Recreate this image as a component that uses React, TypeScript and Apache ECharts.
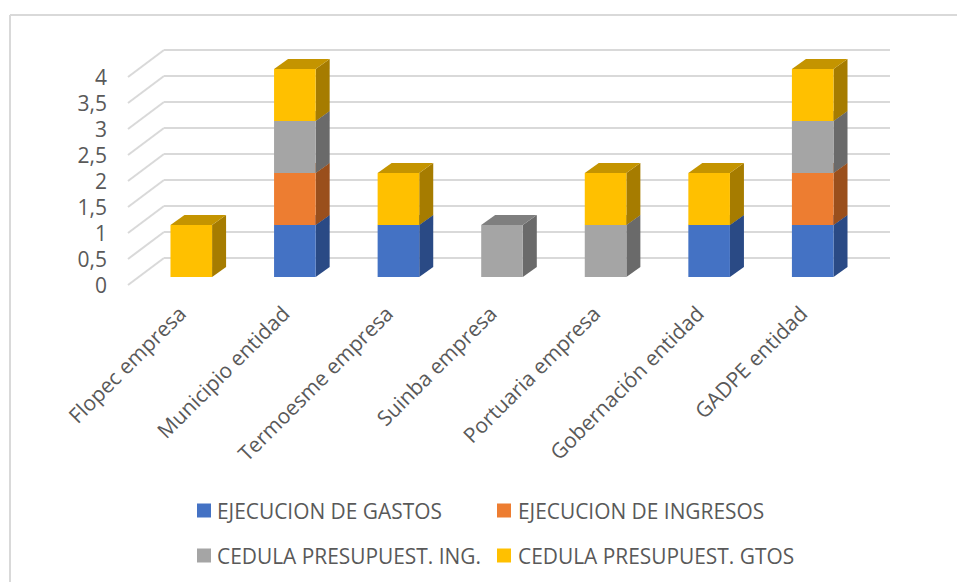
import React, { useEffect, useRef } from "react";
import * as echarts from "echarts";

const categories = ["Flopec empresa", "Municipio entidad", "Termoesme empresa", "Suinba empresa", "Portuaria empresa", "Gobernación entidad", "GADPE entidad"];
const ejecucionGastos = [0, 1, 1, 0, 0, 1, 1];
const ejecucionIngresos = [0, 1, 0, 0, 0, 0, 1];
const cedulaIngresos = [0, 1, 0, 1, 1, 0, 1];
const cedulaGastos = [1, 1, 1, 0, 1, 1, 1];
const yTicks = [0, 0.5, 1, 1.5, 2, 2.5, 3, 3.5, 4];

const names = ["EJECUCION DE GASTOS", "EJECUCION DE INGRESOS", "CEDULA PRESUPUEST. ING.", "CEDULA PRESUPUEST. GTOS"];
const values = [ejecucionGastos, ejecucionIngresos, cedulaIngresos, cedulaGastos];
const front = ["#4472C4", "#ED7D31", "#A5A5A5", "#FFC000"];
const side = ["#2A4A85", "#9A4F1C", "#6A6A6A", "#A67C00"];
const top = ["#335899", "#B65F24", "#7F7F7F", "#C49400"];

const FONT = "'Open Sans', sans-serif";
const TEXT = "#595959";
const GRIDLINE = "#D9D9D9";
const BAR_W = 41.6;
const DX = 14;
const DY = 10;

export default function App() {
  const ref = useRef<HTMLDivElement>(null);
  useEffect(() => {
    const chart = echarts.init(ref.current!, null, { renderer: "svg" });
    const barSeries = names.map((name, s) => ({
      name,
      type: "custom",
      xAxisIndex: 0,
      yAxisIndex: 0,
      itemStyle: { color: front[s] },
      data: categories.map((_, i) => {
        let base = 0;
        for (let k = 0; k < s; k++) base += values[k][i];
        return [i, base, base + values[s][i]];
      }),
      encode: { x: 0, y: [1, 2] },
      renderItem: (_p: any, api: any) => {
        const i = api.value(0);
        const b = api.value(1);
        const t = api.value(2);
        if (t === b) return null;
        const [cx, y0] = api.coord([i, b]);
        const [, y1] = api.coord([i, t]);
        const l = cx - BAR_W / 2;
        const r = l + BAR_W;
        return {
          type: "group",
          children: [
            { type: "polygon", shape: { points: [[r, y0], [r + DX, y0 - DY], [r + DX, y1 - DY], [r, y1]] }, style: { fill: side[s] } },
            { type: "polygon", shape: { points: [[l, y1], [l + DX, y1 - DY], [r + DX, y1 - DY], [r, y1]] }, style: { fill: top[s] } },
            { type: "rect", shape: { x: l, y: y1, width: BAR_W, height: y0 - y1 }, style: { fill: front[s] } },
          ],
        };
      },
    }));
    chart.setOption({
      animation: false,
      backgroundColor: "#fff",
      graphic: [
        { type: "line", shape: { x1: 10, y1: 15, x2: 957, y2: 15 }, style: { stroke: GRIDLINE, lineWidth: 2 } },
        { type: "line", shape: { x1: 10, y1: 15, x2: 10, y2: 582 }, style: { stroke: GRIDLINE, lineWidth: 2 } },
      ],
      grid: [
        { left: 139.5, right: 92.5, top: 69, bottom: 305 },
        { left: 128, right: 103, top: 77, bottom: 297 },
        { left: 164, right: 67, top: 50, bottom: 324 },
      ],
      xAxis: [
        {
          gridIndex: 0,
          type: "category",
          data: categories,
          axisLine: { show: false },
          axisTick: { show: false },
          axisLabel: { rotate: 45, interval: 0, margin: 23, padding: [0, 13.5, 0, 0], fontFamily: FONT, fontSize: 21, color: TEXT },
        },
        { gridIndex: 1, type: "category", data: categories, show: false },
        { gridIndex: 2, type: "category", data: categories, show: false },
      ],
      yAxis: [
        { gridIndex: 0, type: "value", min: 0, max: 4, interval: 0.5, show: false },
        {
          gridIndex: 1,
          type: "value",
          min: 0,
          max: 4,
          interval: 0.5,
          axisLine: { show: false },
          axisTick: { show: false },
          splitLine: { show: false },
          axisLabel: {
            margin: 21,
            padding: [7, 0, 0, 0],
            fontFamily: FONT,
            fontSize: 21,
            color: TEXT,
            formatter: (v: number) => String(v).replace(".", ","),
          },
        },
        {
          gridIndex: 2,
          type: "value",
          min: 0,
          max: 4,
          interval: 0.5,
          axisLine: { show: false },
          axisTick: { show: false },
          axisLabel: { show: false },
          splitLine: { show: true, lineStyle: { color: GRIDLINE, width: 2 } },
        },
      ],
      legend: [
        {
          left: 197,
          top: 500,
          padding: 0,
          orient: "vertical",
          itemWidth: 14,
          itemHeight: 14,
          itemGap: 24,
          icon: "rect",
          data: [names[0], names[2]],
          textStyle: { fontFamily: FONT, fontSize: 20.9, color: TEXT, padding: [0, 0, 0, 1] },
        },
        {
          left: 497,
          top: 500,
          padding: 0,
          orient: "vertical",
          itemWidth: 14,
          itemHeight: 14,
          itemGap: 24,
          icon: "rect",
          data: [names[1], names[3]],
          textStyle: { fontFamily: FONT, fontSize: 20.9, color: TEXT, padding: [0, 0, 0, 2] },
        },
      ],
      series: [
        {
          type: "custom",
          silent: true,
          xAxisIndex: 1,
          yAxisIndex: 1,
          data: yTicks.map((v) => [0, v]),
          encode: { x: 0, y: 1 },
          renderItem: (p: any, api: any) => {
            const y = api.coord([0, api.value(1)])[1];
            const x = (p.coordSys as any).x;
            return {
              type: "line",
              shape: { x1: x, y1: y, x2: x + 36, y2: y - 27 },
              style: { stroke: GRIDLINE, lineWidth: 2 },
            };
          },
        },
        ...barSeries,
      ],
    });
    return () => chart.dispose();
  }, []);
  return <div ref={ref} style={{ position: "absolute", left: 0, top: 0, width: 957, height: 582 }} />;
}
